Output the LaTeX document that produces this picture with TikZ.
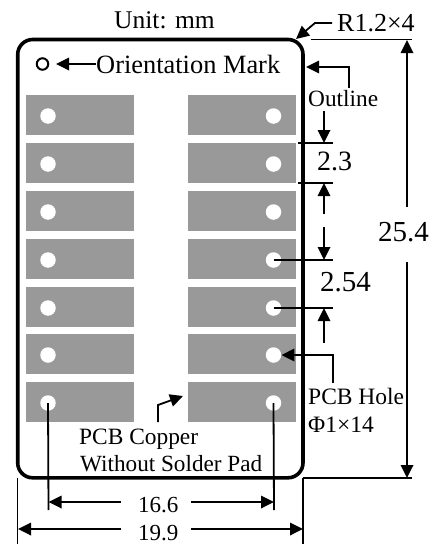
\documentclass[tikz,border=0pt]{standalone}
\usepackage{fontspec}
\setmainfont{Liberation Serif}
\usetikzlibrary{arrows.meta,calc}
\definecolor{padgray}{HTML}{999999}
\tikzset{
  pad/.style={fill=padgray,draw=none,inner sep=0,minimum width=108pt,minimum height=40pt,anchor=north west},
  hole/.style={circle,fill=white,draw=none,inner sep=0,minimum size=15.5pt},
  lbl/.style={inner sep=0,anchor=base west,text=black},
  wire/.style={line width=1.8pt,black},
  arr/.style={wire,-{Triangle[length=13pt,width=12.5pt]}},
}
\newcommand{\fs}[1]{\fontsize{#1}{#1}\selectfont}
\begin{document}
\begin{tikzpicture}[x=1pt,y=-1pt]
\useasboundingbox (0,0) rectangle (433,544);
% pads and holes
\foreach \n/\yy in {1/95,2/143,3/191,4/239,5/287,6/334,7/382}{
  \node[pad] (pl\n) at (26,\yy) {};
  \node[pad] (pr\n) at (188,\yy) {};
  \node[hole] (hl\n) at (48,\yy+21) {};
  \node[hole] (hr\n) at (273.5,\yy+21) {};
}
% outline
\draw[line width=3.6pt,black,rounded corners=15pt] (17.7,39.5) rectangle (303,477.8);
\coordinate (olTR) at (296,39);
% orientation mark
\node[circle,draw=black,line width=2pt,inner sep=0,minimum size=11.5pt] (mark) at (42.5,64) {};
% labels
\node[lbl] (unit) at (114,28) {\fs{25.5}Unit: mm};
\node[lbl] (orient) at (96,73) {\fs{26.4}Orientation Mark};
\node[lbl] (radius) at (337,31) {\fs{26}R1.2×4};
\node[lbl] (outl) at (308,106) {\fs{23.3}Outline};
\node[lbl] (d23) at (317,170) {\fs{28}2.3};
\node[lbl] (d254) at (320,291) {\fs{29}2.54};
\node[lbl] (d254b) at (378,241) {\fs{29}25.4};
\node[lbl] (hole1) at (308,404) {\fs{23.5}PCB Hole};
\node[lbl] (hole2) at (308,432) {\fs{23.5}Φ1×14};
\node[lbl] (cop1) at (79,444) {\fs{23.4}PCB Copper};
\node[lbl] (cop2) at (80,471) {\fs{23.2}Without Solder Pad};
\node[lbl] (d166) at (138,512) {\fs{23}16.6};
\node[lbl] (d199) at (138,540) {\fs{23}19.9};
% pointer arrows
\coordinate (mtip) at (56,64);
\draw[arr] (orient.west |- mark) -- (mtip);
\draw[arr] (332,23) coordinate (ra) -- (315,23) -- (olTR);
\draw[arr] (349,88) coordinate (oa) -- (349,67) -- (306,67);
\coordinate (pb) at (333,383);
\draw[arr] (pb) -- (pb |- hr6.center) -- (hr6.east);
\draw[arr] (158,422) coordinate (ca) -- (158,405) -- (183,396);
% right extension lines
\coordinate (e1) at (298,143); \coordinate (e1b) at (333,143);
\coordinate (e2) at (298,183); \coordinate (e2b) at (333,183);
\coordinate (e3b) at (333,260); \coordinate (e4b) at (333,308);
\draw[wire] (e1) -- (e1b);
\draw[wire] (e2) -- (e2b);
\draw[wire] (hr4.center) -- (e3b |- hr4.center);
\draw[wire] (hr5.center) -- (e4b |- hr5.center);
% pitch arrows
\draw[arr] (324,111) -- (324,143);
\draw[arr] (324,214) -- (324,183);
\draw[arr] (324,227) -- (324,260);
\draw[arr] (324,343) -- (324,308);
% overall height
\coordinate (tl) at (311,39.5); \coordinate (tr) at (412,39.5);
\coordinate (bl) at (303,478); \coordinate (br) at (412,478);
\draw[wire] (tl) -- (tr);
\draw[wire] (bl) -- (br);
\draw[arr] (407,207) -- (407,40);
\draw[arr] (407,262) -- (407,478);
% bottom dimensions
\coordinate (b1) at (48.5,510); \coordinate (b2) at (274,510);
\draw[wire] (hl7.center) -- (b1);
\draw[wire] (hr7.center) -- (b2);
\draw[arr] (121,502) -- (48.5,502);
\draw[arr] (191,502) -- (274,502);
\draw[wire] (17.5,478) -- (17.5,544);
\draw[wire] (bl) -- (303,544);
\draw[arr] (121,529) -- (18,529);
\draw[arr] (191,529) -- (303,529);
\end{tikzpicture}
\end{document}
